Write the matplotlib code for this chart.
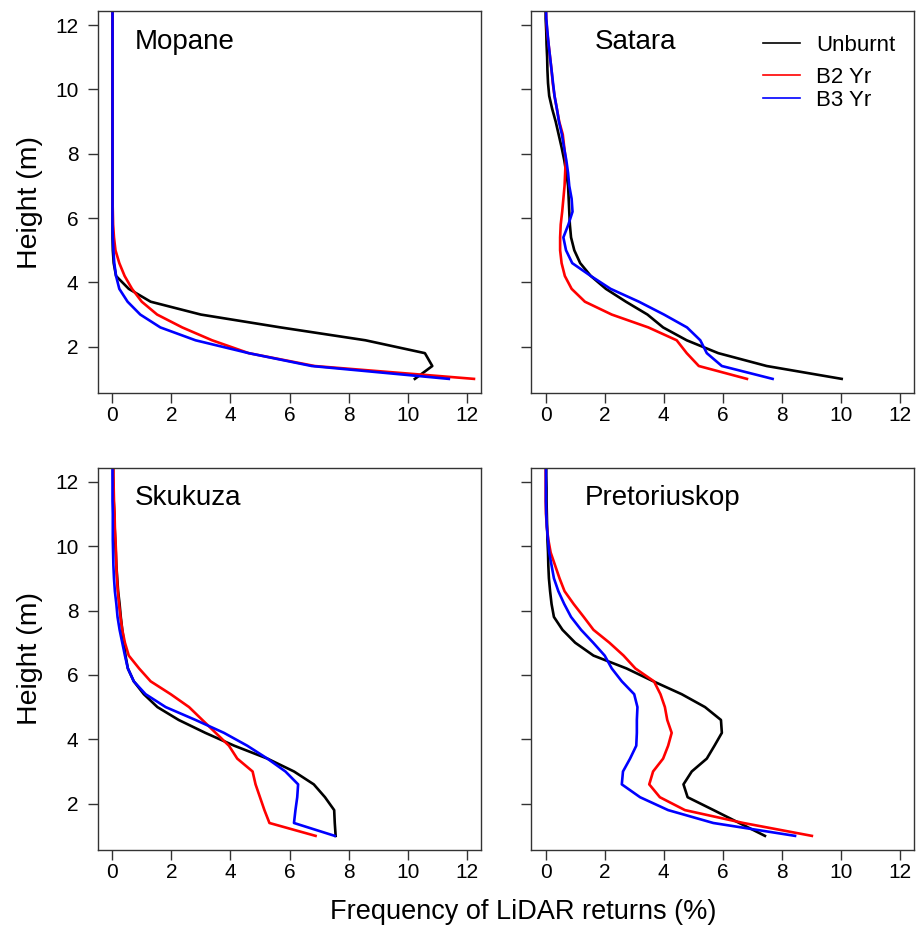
import matplotlib.pyplot as plt
from matplotlib.lines import Line2D

plt.rcParams['font.family'] = ['Liberation Sans', 'DejaVu Sans']

# heights of the LiDAR bins (m)
heights = [1.0, 1.4, 1.8, 2.2, 2.6, 3.0, 3.4, 3.8, 4.2, 4.6, 5.0, 5.4, 5.8, 6.2, 6.6,
           7.0, 7.4, 7.8, 8.2, 8.6, 9.0, 9.4, 9.8, 10.2, 10.6, 11.0, 11.4, 11.8, 12.2, 12.6]

sites = ["Mopane", "Satara", "Skukuza", "Pretoriuskop"]
series_names = ["Unburnt", "B2 Yr", "B3 Yr"]
series_colors = ["black", "red", "blue"]

# frequency of returns (%) per height, one list per site/series
mopane_unburnt = [10.24, 10.83, 10.58, 8.57, 5.7, 3.0, 1.30, 0.56, 0.13, 0.05, 0.02, 0.01, 0.01, 0.01, 0.01,
                  0.01, 0.01, 0.01, 0.01, 0.01, 0.01, 0.01, 0.01, 0.01, 0.01, 0.01, 0.01, 0.01, 0.01, 0.01]
mopane_b2 = [12.24, 6.85, 4.62, 3.38, 2.37, 1.52, 1.0, 0.67, 0.42, 0.24, 0.11, 0.06, 0.03, 0.02, 0.01,
             0.01, 0.01, 0.01, 0.01, 0.01, 0.01, 0.01, 0.01, 0.01, 0.01, 0.01, 0.01, 0.01, 0.01, 0.01]
mopane_b3 = [11.39, 6.75, 4.62, 2.82, 1.63, 0.95, 0.52, 0.24, 0.13, 0.07, 0.04, 0.02, 0.01, 0.01, 0.01,
             0.01, 0.01, 0.01, 0.01, 0.01, 0.01, 0.01, 0.01, 0.01, 0.01, 0.01, 0.01, 0.01, 0.01, 0.01]

satara_unburnt = [10.03, 7.49, 5.85, 4.78, 3.98, 3.45, 2.72, 2.04, 1.53, 1.17, 0.97, 0.86, 0.82, 0.80, 0.78,
                  0.76, 0.70, 0.63, 0.54, 0.44, 0.34, 0.22, 0.12, 0.08, 0.06, 0.05, 0.03, 0.02, 0.0, 0.0]
satara_b2 = [6.82, 5.19, 4.78, 4.44, 3.48, 2.24, 1.33, 0.88, 0.65, 0.54, 0.49, 0.49, 0.51, 0.56, 0.60,
             0.64, 0.66, 0.68, 0.63, 0.58, 0.46, 0.38, 0.30, 0.24, 0.20, 0.15, 0.10, 0.05, 0.02, 0.01]
satara_b3 = [7.69, 5.97, 5.46, 5.24, 4.79, 4.01, 3.16, 2.2, 1.53, 0.9, 0.69, 0.6, 0.77, 0.91, 0.88,
             0.80, 0.76, 0.70, 0.62, 0.55, 0.45, 0.38, 0.30, 0.25, 0.20, 0.15, 0.10, 0.06, 0.02, 0.01]

skukuza_unburnt = [7.56, 7.53, 7.51, 7.2, 6.82, 6.15, 5.25, 4.13, 3.15, 2.25, 1.53, 1.07, 0.73, 0.53, 0.45,
                   0.40, 0.34, 0.29, 0.25, 0.20, 0.17, 0.14, 0.12, 0.10, 0.08, 0.07, 0.05, 0.04, 0.03, 0.03]
skukuza_b2 = [6.88, 5.32, 5.15, 5.0, 4.85, 4.75, 4.23, 3.95, 3.5, 3.05, 2.6, 1.98, 1.30, 0.91, 0.56,
              0.43, 0.34, 0.28, 0.23, 0.19, 0.16, 0.14, 0.13, 0.11, 0.09, 0.08, 0.06, 0.05, 0.04, 0.04]
skukuza_b3 = [7.53, 6.15, 6.2, 6.26, 6.29, 5.86, 5.25, 4.57, 3.78, 2.82, 1.81, 1.13, 0.73, 0.53, 0.43,
              0.34, 0.25, 0.18, 0.14, 0.09, 0.06, 0.04, 0.03, 0.02, 0.02, 0.02, 0.01, 0.01, 0.01, 0.01]

pretoriuskop_unburnt = [7.43, 6.56, 5.69, 4.81, 4.67, 4.95, 5.46, 5.72, 5.97, 5.94, 5.40, 4.61, 3.65, 2.74, 1.62,
                        1.0, 0.57, 0.28, 0.20, 0.15, 0.11, 0.09, 0.08, 0.06, 0.05, 0.04, 0.03, 0.03, 0.02, 0.02]
pretoriuskop_b2 = [9.02, 6.7, 4.72, 3.87, 3.51, 3.64, 3.98, 4.15, 4.27, 4.12, 4.04, 3.89, 3.67, 3.04, 2.64,
                   2.16, 1.62, 1.29, 0.95, 0.64, 0.47, 0.32, 0.17, 0.09, 0.04, 0.01, 0.0, 0.0, 0.0, 0.0]
pretoriuskop_b3 = [8.45, 5.68, 4.15, 3.2, 2.58, 2.62, 2.86, 3.07, 3.09, 3.09, 3.11, 3.0, 2.58, 2.24, 2.0,
                   1.61, 1.2, 0.86, 0.63, 0.43, 0.28, 0.2, 0.12, 0.08, 0.04, 0.02, 0.01, 0.01, 0.01, 0.01]

site_data = [
    [mopane_unburnt, mopane_b2, mopane_b3],
    [satara_unburnt, satara_b2, satara_b3],
    [skukuza_unburnt, skukuza_b2, skukuza_b3],
    [pretoriuskop_unburnt, pretoriuskop_b2, pretoriuskop_b3],
]

# panel layout (figure fractions) and site-label x offsets
positions = [
    [0.1069, 0.5792, 0.4177, 0.409],
    [0.5796, 0.5792, 0.4171, 0.409],
    [0.1069, 0.0899, 0.4177, 0.4095],
    [0.5796, 0.0899, 0.4171, 0.4095],
]
label_x = [0.097, 0.166, 0.097, 0.14]

fig = plt.figure(figsize=(9.17, 9.34), dpi=100)
axes = []
for i, pos in enumerate(positions):
    ax = fig.add_axes(pos)
    for vals, col in zip(site_data[i], series_colors):
        ax.plot(vals, heights, color=col, lw=1.9)
    ax.set_xlim(-0.48, 12.48)
    ax.set_ylim(0.56, 12.44)
    ax.set_xticks(range(0, 13, 2))
    ax.set_yticks(range(2, 13, 2))
    ax.tick_params(direction="out", length=7, width=1, labelsize=15, color="#333333")
    ax.tick_params(axis="x", pad=2)
    ax.tick_params(axis="y", pad=7)
    for sp in ax.spines.values():
        sp.set_color("#333333")
        sp.set_linewidth(1.0)
    if i % 2 == 1:
        ax.set_yticklabels([])
    else:
        ax.set_ylabel("Height (m)", fontsize=20.5, labelpad=9)
    ax.text(label_x[i], 0.92, sites[i], transform=ax.transAxes, fontsize=20,
            ha="left", va="center")
    axes.append(ax)

# legend in the Satara panel
handles = [Line2D([], [], color=c, lw=1.2) for c in series_colors]
leg1 = axes[1].legend(handles[:1], series_names[:1], loc="center left",
                      bbox_to_anchor=(0.605, 0.911), frameon=False, fontsize=16,
                      handlelength=1.65, handletextpad=0.75, borderpad=0, borderaxespad=0)
axes[1].add_artist(leg1)
axes[1].legend(handles[1:], series_names[1:], loc="center left",
               bbox_to_anchor=(0.605, 0.796), frameon=False, fontsize=16,
               handlelength=1.65, handletextpad=0.75, borderpad=0, borderaxespad=0,
               labelspacing=0.1)

fig.text(0.570, 0.024, "Frequency of LiDAR returns (%)", fontsize=19.5, ha="center", va="center")

plt.savefig("out.png", dpi=100)
